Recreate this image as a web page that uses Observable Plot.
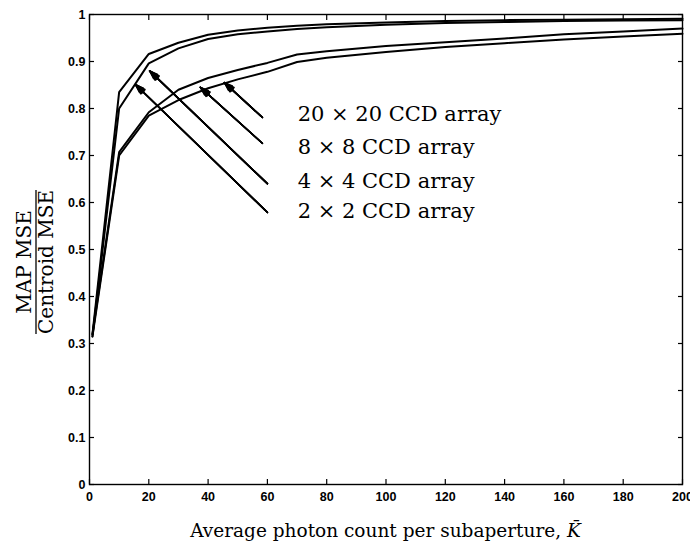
<!DOCTYPE html>
<html><head><meta charset="utf-8">
<script src="https://cdn.jsdelivr.net/npm/d3@7"></script>
<script src="https://cdn.jsdelivr.net/npm/@observablehq/plot@0.6"></script>
<style>body{margin:0;background:#fff}</style>
</head><body><div id="chart"></div>
<script>
// Data
const photonCount = [1, 10, 20, 30, 40, 50, 60, 70, 80, 100, 120, 140, 160, 180, 200];
const mse2x2   = [0.320, 0.835, 0.916, 0.940, 0.957, 0.966, 0.972, 0.976, 0.979, 0.983, 0.986, 0.988, 0.989, 0.990, 0.991];
const mse4x4   = [0.315, 0.800, 0.896, 0.928, 0.948, 0.958, 0.964, 0.969, 0.973, 0.978, 0.982, 0.984, 0.986, 0.987, 0.988];
const mse8x8   = [0.320, 0.707, 0.792, 0.840, 0.865, 0.882, 0.897, 0.915, 0.922, 0.933, 0.941, 0.949, 0.958, 0.964, 0.970];
const mse20x20 = [0.315, 0.700, 0.785, 0.818, 0.843, 0.862, 0.878, 0.899, 0.908, 0.920, 0.931, 0.939, 0.947, 0.953, 0.959];

const labelNames = ["20 × 20 CCD array", "8 × 8 CCD array", "4 × 4 CCD array", "2 × 2 CCD array"];
const labelK     = [70.2, 70.2, 70.2, 70.2];
const labelV     = [0.787, 0.717, 0.645, 0.581];
const arrowTailK = [58.3, 58.3, 60.0, 60.0];
const arrowTailV = [0.781, 0.726, 0.640, 0.579];
const arrowTipK  = [45.5, 37.4, 20.3, 15.5];
const arrowTipV  = [0.855, 0.845, 0.880, 0.851];

const xTicks = [0, 20, 40, 60, 80, 100, 120, 140, 160, 180, 200];
const yTicks = [0, 0.1, 0.2, 0.3, 0.4, 0.5, 0.6, 0.7, 0.8, 0.9, 1];
const yTickLabels = ["0", "0.1", "0.2", "0.3", "0.4", "0.5", "0.6", "0.7", "0.8", "0.9", "1"];

const series = [
  {name: "2x2", values: mse2x2},
  {name: "4x4", values: mse4x4},
  {name: "8x8", values: mse8x8},
  {name: "20x20", values: mse20x20}
];
const rows = [];
series.forEach(s => photonCount.forEach((k, i) => rows.push({k, v: s.values[i], name: s.name})));
const arrows = labelNames.map((t, i) => ({x1: arrowTailK[i], y1: arrowTailV[i], x2: arrowTipK[i], y2: arrowTipV[i]}));
const labels = labelNames.map((t, i) => ({text: t, k: labelK[i], v: labelV[i]}));

const sans = "'Liberation Sans', Arial, Helvetica, sans-serif";
const serif = "'DejaVu Serif', serif";

// arrow heads are filled by overlaying V heads of decreasing opening
const headAngles = [40, 32, 24, 16, 8];
const arrowMarks = headAngles.map((a, i) =>
  Plot.arrow(arrows, {x1: "x1", y1: "y1", x2: "x2", y2: "y2", stroke: "#000",
    strokeWidth: i === 0 ? 1.3 : 1.6, headLength: 10, headAngle: a}));

const plot = Plot.plot({
  width: 690, height: 545,
  marginLeft: 89, marginRight: 8, marginTop: 14, marginBottom: 61,
  style: {background: "#fff", color: "#000", fontFamily: sans, fontSize: "12px"},
  x: {domain: [0, 200]},
  y: {domain: [0, 1]},
  marks: [
    Plot.axisX({ticks: xTicks, tickFormat: d => String(d), tickSize: -5, tickPadding: 13, label: null, fontWeight: "bold", fontSize: 12.5, strokeWidth: 1.2}),
    Plot.axisX({anchor: "top", ticks: xTicks, tickFormat: () => "", tickSize: -5, label: null, strokeWidth: 1.2}),
    Plot.axisY({ticks: yTicks, tickFormat: d => yTickLabels[yTicks.indexOf(d)], tickSize: -5, tickPadding: 9, label: null, fontWeight: "bold", fontSize: 12.5, strokeWidth: 1.2}),
    Plot.axisY({anchor: "right", ticks: yTicks, tickFormat: () => "", tickSize: -5, label: null, strokeWidth: 1.2}),
    Plot.frame({stroke: "#000", strokeWidth: 1.4}),
    Plot.line(rows, {x: "k", y: "v", z: "name", stroke: "#000", strokeWidth: 2}),
    ...arrowMarks,
    Plot.text(labels, {x: "k", y: "v", text: "text", textAnchor: "start", fontFamily: serif, fontSize: 21, fill: "#000"})
  ]
});
document.getElementById("chart").appendChild(plot);

const svg = d3.select(plot);
const xs = plot.scale("x"), ys = plot.scale("y");
const cx = (xs.apply(0) + xs.apply(200)) / 2;
const bottom = ys.apply(0);

// x-axis title
const xt = svg.append("text")
  .attr("x", cx).attr("y", bottom + 53)
  .attr("text-anchor", "middle")
  .style("font-family", serif).style("font-size", "18.5px").style("font-weight", "normal").attr("fill", "#000");
xt.append("tspan").text("Average photon count per subaperture, ");
xt.append("tspan").style("font-style", "italic").text("K\u0304");

// y-axis title as a fraction
const cy = (ys.apply(0) + ys.apply(1)) / 2 + 13;
const g = svg.append("g").attr("transform", `translate(36,${cy}) rotate(-90)`)
  .style("font-family", serif).style("font-size", "20px").style("font-weight", "normal");
g.append("text").attr("x", 0).attr("y", -5).attr("text-anchor", "middle").attr("fill", "#000").text("MAP MSE");
const den = g.append("text").attr("x", 0).attr("y", 17).attr("text-anchor", "middle").attr("fill", "#000").text("Centroid MSE");
const w = den.node().getComputedTextLength();
g.append("line").attr("x1", -w / 2).attr("x2", w / 2).attr("y1", 0).attr("y2", 0).attr("stroke", "#000").attr("stroke-width", 1.3);
</script>
</body></html>
